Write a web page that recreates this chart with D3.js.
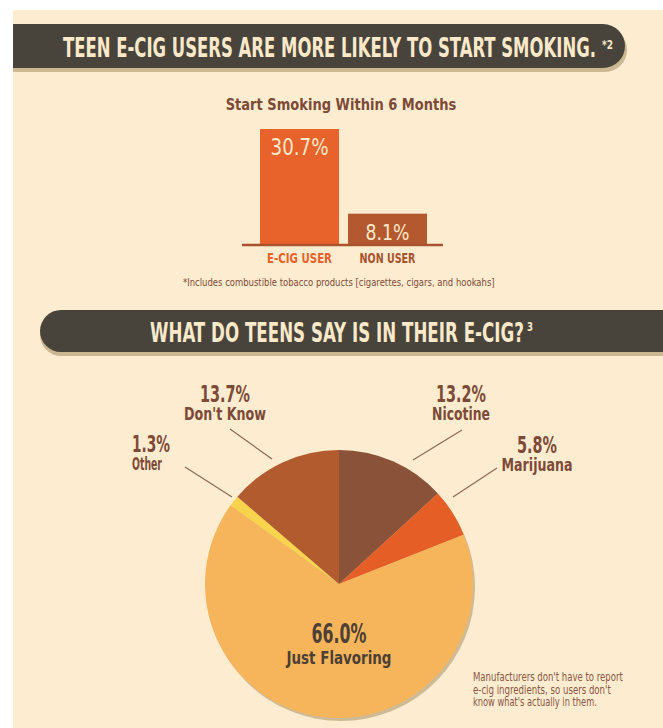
<!DOCTYPE html>
<html>
<head>
<meta charset="utf-8">
<script src="https://cdn.jsdelivr.net/npm/d3@7"></script>
<style>
  html, body { margin: 0; padding: 0; background: #ffffff; }
  svg { display: block; }
</style>
</head>
<body>
<svg id="chart" width="663" height="728"></svg>
<script>
// ---- data ----
const title1 = "TEEN E-CIG USERS ARE MORE LIKELY TO START SMOKING.";
const title1Sup = "*2";
const barTitle = "Start Smoking Within 6 Months";
const barCategories = ["E-CIG USER", "NON USER"];
const barValues = [30.7, 8.1];
const barFootnote = "*Includes combustible tobacco products [cigarettes, cigars, and hookahs]";
const title2 = "WHAT DO TEENS SAY IS IN THEIR E-CIG?";
const title2Sup = "3";
const pieCategories = ["Nicotine", "Marijuana", "Just Flavoring", "Other", "Don't Know"];
const pieValues = [13.2, 5.8, 66.0, 1.3, 13.7];
const noteLines = ["Manufacturers don't have to report", "e-cig ingredients, so users don't", "know what's actually in them."];

// ---- styles ----
const FONT = "'DejaVu Sans Condensed','Liberation Sans Narrow',sans-serif";
const BG = "#fdecd0";
const DARK = "#48443c";
const SHADOW = "#cbb792";
const CREAM = "#fbe9c9";
const BROWN = "#7c4a36";
const barColors = ["#e8622b", "#b3582f"];
const barLabelColors = ["#e8622b", "#a8532d"];
const pieColors = ["#8a5238", "#e45e26", "#f7b55b", "#f8d44c", "#b25b2f"];

const svg = d3.select("#chart");

// fit a text to a given width and cap height (tall condensed look)
function fit(sel, width, cap) {
  sel.attr("font-size", 100);
  const w = sel.node().getComputedTextLength();
  const size = 100 * width / w;
  sel.attr("font-size", size);
  const sy = cap / (0.73 * size);
  const x = +sel.attr("x"), y = +sel.attr("y");
  sel.attr("x", 0).attr("y", 0).attr("transform", `translate(${x},${y}) scale(1,${sy})`);
  return sel;
}
function addText(parent, str, x, y, opts) {
  const t = parent.append("text").text(str)
    .attr("x", x).attr("y", y)
    .attr("text-anchor", opts.anchor || "start")
    .attr("font-family", FONT)
    .attr("font-weight", opts.weight || "bold")
    .attr("fill", opts.fill);
  return fit(t, opts.width, opts.cap);
}

// background (white frame on top/left)
svg.append("rect").attr("x", 0).attr("y", 0).attr("width", 663).attr("height", 728).attr("fill", "#ffffff");
svg.append("rect").attr("x", 13).attr("y", 10).attr("width", 650).attr("height", 718).attr("fill", BG);

// ---- banner helper ----
function bannerPath(x0, x1, y0, y1, roundRight) {
  const r = (y1 - y0) / 2;
  const p = d3.path();
  if (roundRight) {
    p.moveTo(x0, y0);
    p.lineTo(x1 - r, y0);
    p.arc(x1 - r, y0 + r, r, -Math.PI / 2, Math.PI / 2);
    p.lineTo(x0, y1);
    p.closePath();
  } else {
    p.moveTo(x1, y0);
    p.lineTo(x0 + r, y0);
    p.arc(x0 + r, y0 + r, r, -Math.PI / 2, Math.PI / 2, true);
    p.lineTo(x1, y1);
    p.closePath();
  }
  return p.toString();
}

// banner 1
svg.append("path").attr("d", bannerPath(13, 627, 28, 72, true)).attr("fill", SHADOW);
svg.append("path").attr("d", bannerPath(13, 625, 24, 68, true)).attr("fill", DARK);
addText(svg, title1, 63, 57, { fill: CREAM, width: 533, cap: 19 });
addText(svg, title1Sup, 602, 49, { fill: CREAM, width: 11, cap: 9 });

// ---- bar chart ----
addText(svg, barTitle, 341, 110, { anchor: "middle", fill: BROWN, width: 231, cap: 11.5 });

const xBar = d3.scaleBand().domain(barCategories).range([260, 427]).paddingInner(0.102).paddingOuter(0);
const yBar = d3.scaleLinear().domain([0, 30.7]).range([244, 129]);

const barG = svg.append("g");
barG.selectAll("rect").data(barValues).join("rect")
  .attr("x", (d, i) => xBar(barCategories[i]))
  .attr("y", d => yBar(d))
  .attr("width", xBar.bandwidth())
  .attr("height", d => yBar(0) - yBar(d))
  .attr("fill", (d, i) => barColors[i]);

barValues.forEach((d, i) => {
  addText(barG, d.toFixed(1) + "%", xBar(barCategories[i]) + xBar.bandwidth() / 2, yBar(d) + (i === 0 ? 26 : 26),
    { anchor: "middle", fill: CREAM, weight: "normal", width: i === 0 ? 58 : 44, cap: i === 0 ? 17 : 16 });
});

// baseline
svg.append("line").attr("x1", 242).attr("x2", 443).attr("y1", yBar(0) + 1).attr("y2", yBar(0) + 1)
  .attr("stroke", "#a8532d").attr("stroke-width", 2.5);

barCategories.forEach((c, i) => {
  addText(barG, c, xBar(c) + xBar.bandwidth() / 2, 263,
    { anchor: "middle", fill: barLabelColors[i], width: i === 0 ? 65 : 56, cap: 10.5 });
});

addText(svg, barFootnote, 183, 286, { fill: BROWN, weight: "normal", width: 312, cap: 7.5 });

// banner 2
svg.append("path").attr("d", bannerPath(40, 663, 314, 356, false)).attr("fill", SHADOW);
svg.append("path").attr("d", bannerPath(40, 663, 310, 352, false)).attr("fill", DARK);
addText(svg, title2, 150, 342, { fill: CREAM, width: 374, cap: 20 });
addText(svg, title2Sup, 527, 331, { fill: CREAM, width: 6, cap: 9 });

// ---- pie ----
const cx = 339, cy = 584, R = 134;
const pie = d3.pie().sort(null).value(d => d)(pieValues);
const arc = d3.arc().innerRadius(0).outerRadius(R);

const pieG = svg.append("g").attr("transform", `translate(${cx},${cy})`);
pieG.append("circle").attr("cx", 2).attr("cy", 3).attr("r", R).attr("fill", "#cdbb98");
pieG.selectAll("path.slice").data(pie).join("path").attr("class", "slice")
  .attr("d", arc)
  .attr("fill", (d, i) => pieColors[i]);

// center label
addText(pieG, pieValues[2].toFixed(1) + "%", 0, 59, { anchor: "middle", fill: "#4b4035", width: 55, cap: 20 });
addText(pieG, pieCategories[2], 0, 80, { anchor: "middle", fill: "#4b4035", width: 105, cap: 13 });

// outside labels
const outside = [
  { i: 0, x: 461, y: 402, anchor: "middle", pctLen: 50, nameLen: 58, line: [462, 430, 413, 460] },
  { i: 1, x: 537, y: 453, anchor: "middle", pctLen: 40, nameLen: 71, line: [497, 468, 453, 497] },
  { i: 3, x: 132, y: 452, anchor: "start", pctLen: 38, nameLen: 30, line: [185, 467, 232, 497] },
  { i: 4, x: 225, y: 402, anchor: "middle", pctLen: 50, nameLen: 82, line: [230, 429, 272, 459] }
];
outside.forEach(o => {
  addText(svg, pieValues[o.i].toFixed(1) + "%", o.x, o.y, { anchor: o.anchor, fill: BROWN, width: o.pctLen, cap: 17 });
  addText(svg, pieCategories[o.i], o.x, o.y + 18, { anchor: o.anchor, fill: BROWN, width: o.nameLen, cap: 12.5 });
  svg.append("line")
    .attr("x1", o.line[0]).attr("y1", o.line[1]).attr("x2", o.line[2]).attr("y2", o.line[3])
    .attr("stroke", "#8b6a55").attr("stroke-width", 1.2);
});

// note
noteLines.forEach((d, i) => {
  addText(svg, d, 473, 681 + i * 12.5, { fill: "#8a5643", weight: "normal", width: [150, 138, 124][i], cap: 8.5 });
});
</script>
</body>
</html>
